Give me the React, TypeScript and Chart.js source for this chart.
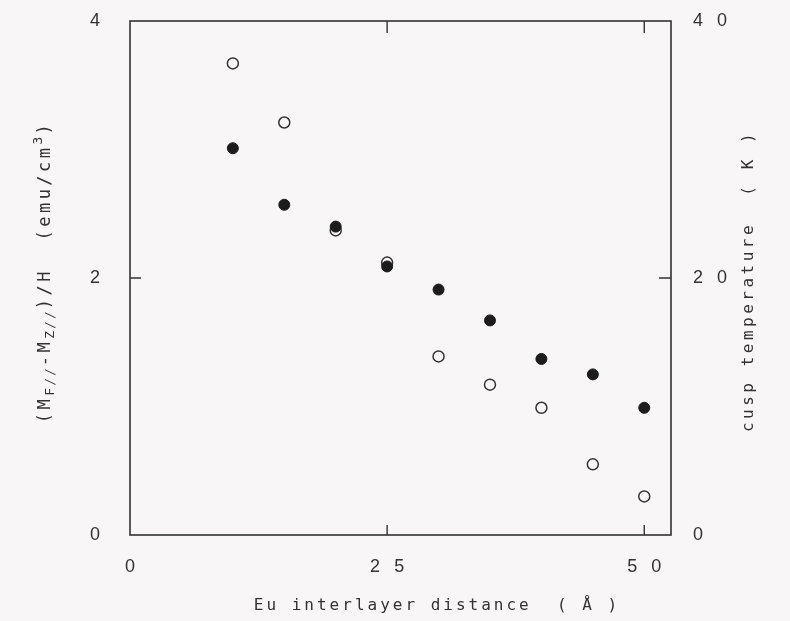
import React, { useEffect, useRef } from 'react';
import { Chart, registerables } from 'chart.js';

Chart.register(...registerables);

// Data
const distances = [10, 15, 20, 25, 30, 35, 40, 45, 50];
const magnetization = [3.01, 2.57, 2.4, 2.09, 1.91, 1.67, 1.37, 1.25, 0.99];
const cuspTemperature = [36.7, 32.1, 23.7, 21.2, 13.9, 11.7, 9.9, 5.5, 3.0];
const xTicks = [0, 25, 50];
const yLeftTicks = [0, 2, 4];
const yRightTicks = [0, 20, 40];
const xInnerTicks = [25, 50];
const yLeftInnerTicks = [2];
const yRightInnerTicks = [20];
const xTitle = 'Eu interlayer distance  ( Å )';
const yRightTitle = 'cusp temperature  ( K )';

const spaced = (v: number | string) => String(v).split('').join('\u2002 ');

const INK = '#333333';
const BG = '#f8f6f7';
const TICK_FONT = { family: '"Liberation Sans", Arial, sans-serif', size: 18 };
const MONO = '"DejaVu Sans Mono", "Liberation Mono", monospace';

const decorPlugin = {
  id: 'decor',
  beforeDraw(chart: any) {
    const { ctx, width, height } = chart;
    ctx.save();
    ctx.fillStyle = BG;
    ctx.fillRect(0, 0, width, height);
    ctx.restore();
  },
  afterDraw(chart: any) {
    const { ctx, chartArea } = chart;
    const { left, right, top, bottom } = chartArea;
    const xs = chart.scales.x;
    const yl = chart.scales.y;
    const yr = chart.scales.y2;
    ctx.save();
    ctx.strokeStyle = INK;
    ctx.lineWidth = 1.6;
    ctx.strokeRect(left, top, right - left, bottom - top);
    ctx.lineWidth = 1.4;
    ctx.beginPath();
    xInnerTicks.forEach((v) => {
      const px = xs.getPixelForValue(v);
      ctx.moveTo(px, bottom);
      ctx.lineTo(px, bottom - 10);
      ctx.moveTo(px, top);
      ctx.lineTo(px, top + 12);
    });
    yLeftInnerTicks.forEach((v) => {
      const py = yl.getPixelForValue(v);
      ctx.moveTo(left, py);
      ctx.lineTo(left + 11, py);
    });
    yRightInnerTicks.forEach((v) => {
      const py = yr.getPixelForValue(v);
      ctx.moveTo(right, py);
      ctx.lineTo(right - 12, py);
    });
    ctx.stroke();

    ctx.fillStyle = INK;
    ctx.textBaseline = 'middle';
    // bottom title
    ctx.font = `16px ${MONO}`;
    (ctx as any).letterSpacing = '3px';
    ctx.textAlign = 'center';
    ctx.fillText(xTitle, 437, 606);

    // right title
    ctx.save();
    ctx.translate(749, (top + bottom) / 2 + 3);
    ctx.rotate(-Math.PI / 2);
    ctx.font = `16px ${MONO}`;
    (ctx as any).letterSpacing = '3.5px';
    ctx.textAlign = 'center';
    ctx.fillText(yRightTitle, 0, 0);
    ctx.restore();

    // left title with sub/superscripts
    ctx.save();
    ctx.translate(46, (top + bottom) / 2 - 6);
    ctx.rotate(-Math.PI / 2);
    ctx.textAlign = 'left';
    const parts: { t: string; kind: 'n' | 'sub' | 'sup' }[] = [
      { t: '(M', kind: 'n' },
      { t: 'F//', kind: 'sub' },
      { t: '-M', kind: 'n' },
      { t: 'Z//', kind: 'sub' },
      { t: ')/H  (emu/cm', kind: 'n' },
      { t: '3', kind: 'sup' },
      { t: ')', kind: 'n' },
    ];
    const setFont = (k: string) => {
      if (k === 'n') {
        ctx.font = `17px ${MONO}`;
        (ctx as any).letterSpacing = '3.5px';
      } else {
        ctx.font = `13px ${MONO}`;
        (ctx as any).letterSpacing = '2px';
      }
    };
    let total = 0;
    parts.forEach((p) => {
      setFont(p.kind);
      total += ctx.measureText(p.t).width;
    });
    let x = -total / 2;
    parts.forEach((p) => {
      setFont(p.kind);
      const dy = p.kind === 'sub' ? 5 : p.kind === 'sup' ? -7 : 0;
      ctx.fillText(p.t, x, dy);
      x += ctx.measureText(p.t).width;
    });
    ctx.restore();
    ctx.restore();
  },
};

export default function App() {
  const ref = useRef<HTMLCanvasElement | null>(null);
  useEffect(() => {
    if (!ref.current) return;
    const chart = new Chart(ref.current, {
      type: 'scatter',
      data: {
        datasets: [
          {
            label: 'magnetization',
            data: distances.map((d, i) => ({ x: d, y: magnetization[i] })),
            yAxisID: 'y',
            pointRadius: 5.5,
            pointBackgroundColor: '#1c1c1c',
            pointBorderColor: '#1c1c1c',
            pointBorderWidth: 1,
            showLine: false,
          },
          {
            label: 'cusp temperature',
            data: distances.map((d, i) => ({ x: d, y: cuspTemperature[i] })),
            yAxisID: 'y2',
            pointRadius: 5.5,
            pointBackgroundColor: BG,
            pointBorderColor: '#333',
            pointBorderWidth: 1.5,
            showLine: false,
          },
        ],
      },
      plugins: [decorPlugin],
      options: {
        responsive: false,
        animation: false,
        events: [],
        layout: { padding: { top: 21, right: 0, left: 0, bottom: 0 } },
        plugins: { legend: { display: false }, tooltip: { enabled: false } },
        scales: {
          x: {
            type: 'linear',
            min: 0,
            max: 52.6,
            afterBuildTicks: (s: any) => {
              s.ticks = xTicks.map((v) => ({ value: v }));
            },
            afterFit: (s: any) => {
              s.height = 86;
              s.paddingLeft = 0;
              s.paddingRight = 0;
            },
            ticks: {
              callback: (v: any) => spaced(v),
              padding: 21,
              color: INK,
              font: TICK_FONT,
              maxRotation: 0,
            },
            grid: { display: false, drawTicks: false },
            border: { display: false },
          },
          y: {
            type: 'linear',
            position: 'left',
            min: 0,
            max: 4,
            afterBuildTicks: (s: any) => {
              s.ticks = yLeftTicks.map((v) => ({ value: v }));
            },
            afterFit: (s: any) => {
              s.width = 130;
              s.paddingTop = 0;
              s.paddingBottom = 0;
            },
            ticks: {
              callback: (v: any) => spaced(v),
              padding: 30,
              color: INK,
              font: TICK_FONT,
            },
            grid: { display: false, drawTicks: false },
            border: { display: false },
          },
          y2: {
            type: 'linear',
            position: 'right',
            min: 0,
            max: 40,
            afterBuildTicks: (s: any) => {
              s.ticks = yRightTicks.map((v) => ({ value: v }));
            },
            afterFit: (s: any) => {
              s.width = 119;
              s.paddingTop = 0;
              s.paddingBottom = 0;
            },
            ticks: {
              callback: (v: any) => spaced(v),
              padding: 22,
              color: INK,
              font: TICK_FONT,
            },
            grid: { display: false, drawTicks: false },
            border: { display: false },
          },
        },
      },
    } as any);
    return () => chart.destroy();
  }, []);
  return (
    <div style={{ position: 'absolute', left: 0, top: 0, width: 790, height: 621 }}>
      <canvas ref={ref} width={790} height={621} style={{ display: 'block' }} />
    </div>
  );
}
